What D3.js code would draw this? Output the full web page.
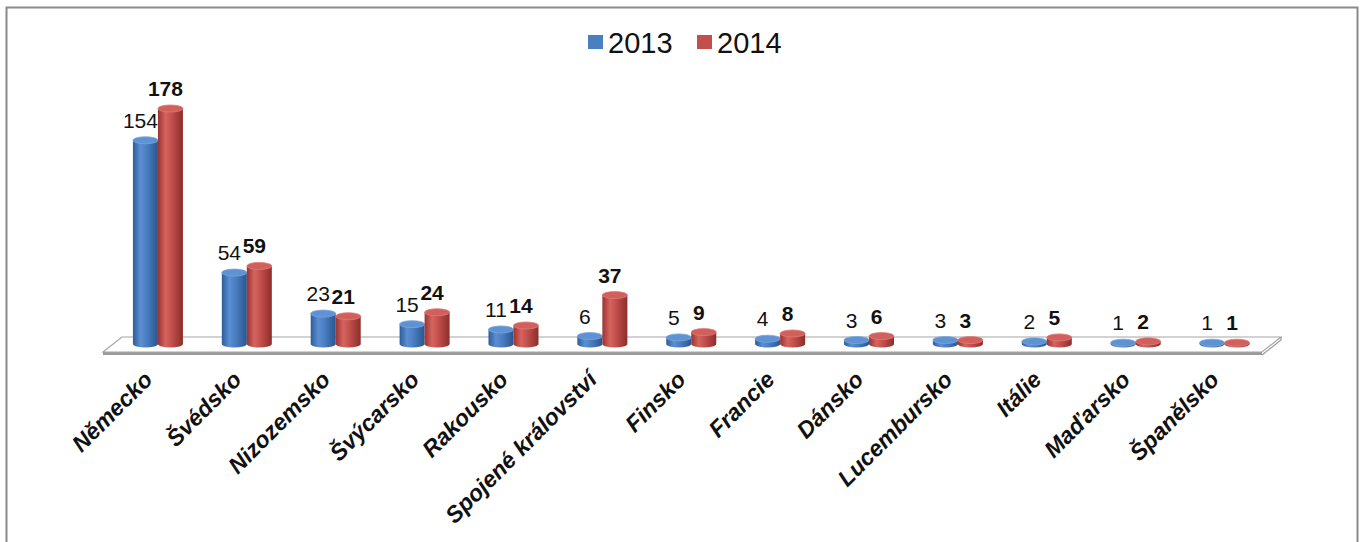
<!DOCTYPE html>
<html>
<head>
<meta charset="utf-8">
<script src="https://cdn.jsdelivr.net/npm/d3@7"></script>
<style>
  html, body { margin: 0; padding: 0; background: #fff; }
  svg { display: block; }
</style>
</head>
<body>
<svg id="chart" width="1364" height="542"></svg>
<script>
// Countries and counts per year
const categories = ["Německo", "Švédsko", "Nizozemsko", "Švýcarsko", "Rakousko",
  "Spojené království", "Finsko", "Francie", "Dánsko", "Lucembursko", "Itálie",
  "Maďarsko", "Španělsko"];
const years = ["2013", "2014"];
const values2013 = [154, 54, 23, 15, 11, 6, 5, 4, 3, 3, 2, 1, 1];
const values2014 = [178, 59, 21, 24, 14, 37, 9, 8, 6, 3, 5, 2, 1];
const yMax = 178;

const svg = d3.select("#chart");
const font = "Arial, 'Liberation Sans', sans-serif";

// frame
svg.append("rect")
  .attr("x", 6.5).attr("y", 7.5).attr("width", 1351).attr("height", 545)
  .attr("fill", "#fff").attr("stroke", "#8a8a8a").attr("stroke-width", 2);

// gradients for cylinder shading
const defs = svg.append("defs");
const palettes = {
  "2013": { stops: ["#2c5c9a", "#5b8fd2", "#4a7ec2", "#2a558e"], top: "#5e92d3", topStroke: "#7aa6dd" },
  "2014": { stops: ["#9a3330", "#d5645f", "#c24f4b", "#8c2e2b"], top: "#d15f5b", topStroke: "#e07c78" }
};
years.forEach(yr => {
  const g = defs.append("linearGradient").attr("id", "grad" + yr)
    .attr("x1", "0%").attr("x2", "100%").attr("y1", "0%").attr("y2", "0%");
  const offs = ["0%", "30%", "55%", "100%"];
  palettes[yr].stops.forEach((c, i) => g.append("stop").attr("offset", offs[i]).attr("stop-color", c));
});

// scales
const x = d3.scaleBand().domain(categories).range([113.5, 1269]).padding(0);
const bw = x.bandwidth();
const barW = 25;
const xs = d3.scaleBand().domain(years).range([bw / 2 - barW, bw / 2 + barW]).padding(0);
const baseY = 344;
const y = d3.scaleLinear().domain([0, yMax]).range([baseY, 108.5]);
const ry = 3.5;

// floor slab
const floor = svg.append("g");
const fl = 103, fr = 1262, skew = 19, backY = 337, frontY = 352, thick = 3;
floor.append("path")
  .attr("d", `M${fl},${frontY} L${fr},${frontY} L${fr},${frontY + thick} L${fl},${frontY + thick} Z`)
  .attr("fill", "#9a9a9a");
floor.append("path")
  .attr("d", `M${fl},${frontY} L${fl + skew},${backY} L${fr + skew},${backY} L${fr},${frontY} Z`)
  .attr("fill", "#fff").attr("stroke", "#a6a6a6").attr("stroke-width", 1.2);
floor.append("path")
  .attr("d", `M${fr + skew},${backY} L${fr + skew},${backY + thick} L${fr},${frontY + thick}`)
  .attr("fill", "none").attr("stroke", "#9a9a9a").attr("stroke-width", 1.2);

// cylinders
const rows = categories.map((c, i) => ({ c, v: { "2013": values2013[i], "2014": values2014[i] } }));
const bars = svg.append("g");
rows.forEach(r => {
  years.forEach(yr => {
    const cx = x(r.c) + xs(yr) + xs.bandwidth() / 2;
    const rx = xs.bandwidth() / 2;
    const x0 = cx - rx, x1 = cx + rx;
    const yt = y(r.v[yr]);
    const p = palettes[yr];
    bars.append("path")
      .attr("d", `M${x0},${yt} L${x0},${baseY} A${rx},${ry} 0 0 0 ${x1},${baseY} L${x1},${yt} Z`)
      .attr("fill", `url(#grad${yr})`);
    bars.append("ellipse")
      .attr("cx", cx).attr("cy", yt).attr("rx", rx).attr("ry", ry)
      .attr("fill", p.top).attr("stroke", p.topStroke).attr("stroke-width", 0.8);
  });
});

// value labels
const labels = svg.append("g").attr("font-family", font).attr("font-size", 21).attr("fill", "#111");
rows.forEach(r => {
  years.forEach(yr => {
    const cx = x(r.c) + xs(yr) + xs.bandwidth() / 2 - 5;
    labels.append("text")
      .attr("x", cx).attr("y", y(r.v[yr]) - ry - 9)
      .attr("text-anchor", "middle")
      .attr("font-weight", yr === "2014" ? "bold" : "normal")
      .text(r.v[yr]);
  });
});

// category labels
const cats = svg.append("g").attr("font-family", font).attr("font-size", 23)
  .attr("font-weight", "bold").attr("font-style", "italic").attr("fill", "#111");
categories.forEach(c => {
  const ax = x(c) + bw / 2 - 4, ay = 381;
  cats.append("text")
    .attr("transform", `translate(${ax},${ay}) rotate(-45)`)
    .attr("text-anchor", "end")
    .text(c);
});

// legend
const legend = svg.append("g").attr("font-family", font).attr("font-size", 29).attr("fill", "#111");
const legendPos = { "2013": 588, "2014": 697 };
years.forEach(yr => {
  const lx = legendPos[yr];
  legend.append("rect").attr("x", lx).attr("y", 35).attr("width", 15).attr("height", 14)
    .attr("fill", yr === "2013" ? "#4a7fc2" : "#c24f4b");
  legend.append("text").attr("x", lx + 20).attr("y", 53).text(yr);
});
</script>
</body>
</html>
